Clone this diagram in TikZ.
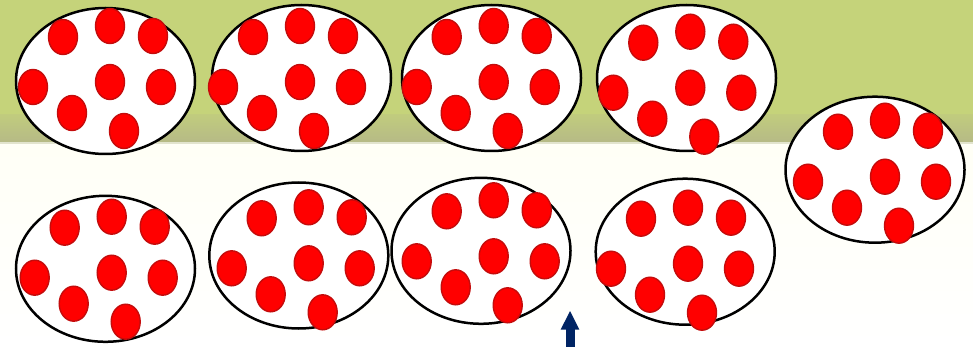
\documentclass[tikz,border=0pt]{standalone}
\usetikzlibrary{shapes.geometric,arrows.meta}

\definecolor{slidegreen}{RGB}{197,211,122}
\definecolor{slideband}{RGB}{182,186,134}
\definecolor{slideline}{RGB}{226,228,206}
\definecolor{slidecream}{RGB}{255,255,246}
\definecolor{peared}{RGB}{255,0,0}
\definecolor{pearim}{RGB}{196,12,12}
\definecolor{arrownavy}{RGB}{0,36,100}

\tikzset{
  sack/.style={ellipse, draw=black, line width=2.5pt, fill=white,
    minimum width=179pt, minimum height=146pt, inner sep=0pt},
  pea/.style={ellipse, draw=pearim, line width=1.4pt, fill=peared,
    minimum width=29pt, minimum height=35pt, inner sep=0pt},
  pointer/.style={arrownavy, line width=9pt, -{Triangle[width=17pt,length=19pt]}}
}

\begin{document}
\begin{tikzpicture}[x=1pt, y=-1pt]

  % ===== background =====
  \useasboundingbox (0,0) rectangle (973,347);
  \fill[slidegreen] (0,0) rectangle (973,117);
  \shade[top color=slidegreen!70!slideband, bottom color=slideband]
  (0,115) rectangle (973,142);
  \fill[slideline] (0,142) rectangle (973,145);
  \shade[top color=slidecream, bottom color=white]
  (0,145) rectangle (973,347);

  % ===== sacks of peas =====
  % name / sack centre / centre pea
  \foreach \name/\cx/\cy/\mx/\my in {
      a/105.5/81/110/82,     b/301.5/78/300/82,
      c/491.5/78/493.7/82,   d/686.5/78/690.3/87.7,
      e/875/169.7/885/176.7, f/105.5/268.8/111.7/272.7,
      g/298.8/255.5/308.7/263.3, h/481/250.8/493.7/256.3,
      i/685.2/251.7/688/263.7}{
    \node[sack] (\name) at (\cx,\cy) {};
    \coordinate (\name-c) at (\mx,\my);
    % ---- eight peas ----
    \foreach \dx/\dy [count=\k] in {-47/-45, 0/-56, 43/-46, -77/5,
        0/0, 51/5, -38/31, 14/49}
      \node[pea] (\name-\k) at ([shift={(\dx,\dy)}]\name-c) {};
  }

  % ===== arrow =====
  \coordinate (foot) at (570,350);
  \coordinate (tip) at (570,310.5);
  \draw[pointer] (foot) -- (tip);

\end{tikzpicture}
\end{document}
